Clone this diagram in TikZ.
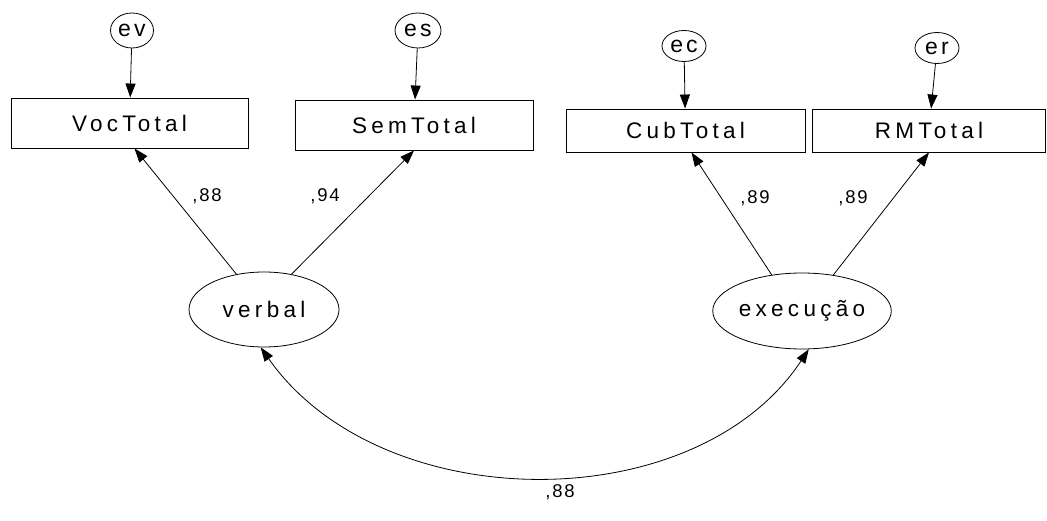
\documentclass[tikz,border=0pt]{standalone}
\usepackage{fontspec}
\setmainfont{Liberation Sans}
\newfontfamily\spaced[LetterSpace=19]{Liberation Sans}
\newfontfamily\spacederr[LetterSpace=14]{Liberation Sans}
\newfontfamily\spacedsm[LetterSpace=10]{Liberation Sans}
\usetikzlibrary{shapes.geometric,arrows.meta,calc}
\begin{document}
\begin{tikzpicture}[x=1pt,y=-1pt,
  obs/.style={draw,line width=0.9pt,rectangle,inner sep=0pt,font=\spaced\fontsize{22.5}{22.5}\selectfont},
  lat/.style={draw,line width=0.8pt,ellipse,inner sep=0pt,font=\spaced\fontsize{22.5}{22.5}\selectfont},
  err/.style={draw,line width=0.8pt,ellipse,inner sep=0pt,font=\spacederr\fontsize{23}{23}\selectfont},
  arr/.style={line width=0.8pt,-{Triangle[length=14pt,width=10pt]}},
  both/.style={line width=0.8pt,{Triangle[length=14pt,width=10pt]}-{Triangle[length=14pt,width=10pt]}},
  coef/.style={inner sep=0pt,font=\spacedsm\fontsize{18.5}{18.5}\selectfont}]
\useasboundingbox (0,0) rectangle (1047,521);
% observed variables
\node[obs,minimum width=237pt,minimum height=50pt] (voc) at (129.5,123) {VocTotal};
\node[obs,minimum width=238pt,minimum height=50pt] (sem) at (414,125) {SemTotal};
\node[obs,minimum width=239pt,minimum height=43pt] (cub) at (685.5,130.5) {CubTotal};
\node[obs,minimum width=233pt,minimum height=43pt] (rm) at (929,130.5) {RMTotal};
% errors
\node[err,minimum width=43pt,minimum height=35pt] (ev) at (132,30.5) {ev};
\node[err,minimum width=46pt,minimum height=35pt] (es) at (418,30.5) {es};
\node[err,minimum width=44pt,minimum height=31pt] (ec) at (684,46) {ec};
\node[err,minimum width=44pt,minimum height=31pt] (er) at (937,48) {er};
% latent
\node[lat,minimum width=150pt,minimum height=75pt] (verbal) at (264,309.5) {verbal};
\node[lat,minimum width=149pt,minimum height=76pt] (exec) at (802,311) {execução};
% error arrows
\draw[arr] (ev) -- (voc);
\draw[arr] (es) -- (sem);
\draw[arr] (ec) -- (cub);
\draw[arr] (er) -- (rm);
% loadings
\draw[arr] (verbal.128) -- ($(voc.south)+(5,0)$);
\draw[arr] (verbal.52) -- (sem.south);
\draw[arr] (exec.130) -- ($(cub.south)+(6,0)$);
\draw[arr] (exec.49) -- (rm.south);
% covariance
\draw[both] (verbal.-95) .. controls +(120,171) and +(-113,171) .. (exec.-80);
% coefficients
\node[coef] (c1) at (207,196) {,88};
\node[coef] (c2) at (325,196) {,94};
\node[coef] (c3) at (755,198) {,89};
\node[coef] (c4) at (853,198) {,89};
\node[coef] (c5) at (560,492) {,88};
\end{tikzpicture}
\end{document}
